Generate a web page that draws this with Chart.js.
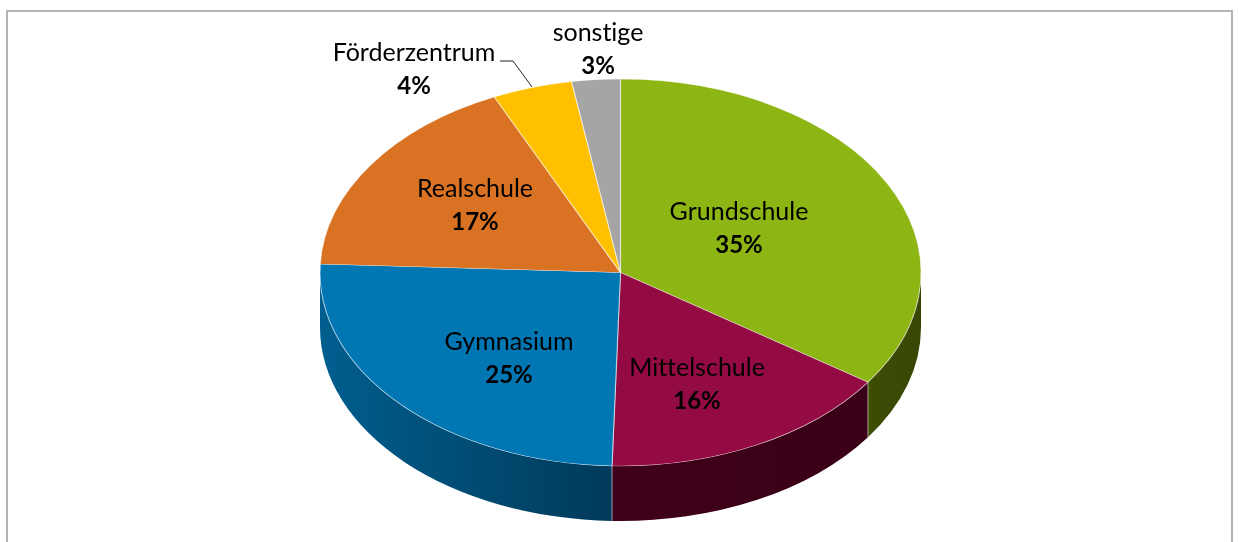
<!DOCTYPE html>
<html lang="de">
<head>
    <meta charset="UTF-8">
    <title>Schularten</title>
    <script src="https://cdn.jsdelivr.net/npm/chart.js"></script>
    <style>
      html, body { margin: 0; padding: 0; background: #fff; overflow: hidden; }
      #box { position: absolute; left: 6px; top: 10px; width: 1223px; height: 560px; border: 2px solid #b3b3b3; }
      #wrap { position: absolute; left: 0; top: 0; width: 1239px; height: 542px; }
    </style>
</head>
<body>
    <div id="box"></div>
    <div id="wrap"><canvas id="pieChart" width="1239" height="542"></canvas></div>

    <script>
      const categories = ['Grundschule', 'Mittelschule', 'Gymnasium', 'Realschule', 'Förderzentrum', 'sonstige'];
      // slice sizes, the printed labels are rounded
      const shares = [34.6, 15.85, 25.25, 17.4, 4.3, 2.6];
      const percentLabels = ['35%', '16%', '25%', '17%', '4%', '3%'];
      const topColors = ['#8db513', '#930b42', '#0076b3', '#d97222', '#ffc000', '#a5a5a5'];
      const wallLeft = ['#3d4d05', '#3f0119', '#005e8e', '#8a4a14', '#a07800', '#666666'];
      const wallRight = ['#384704', '#3a0017', '#003a5a', '#8a4a14', '#a07800', '#666666'];

      // text anchors, pixel centre of each two line label
      const labelX = [739, 697, 509, 475, 414, 598];
      const labelY = [212, 368, 342, 189, 53, 33];

      // where the flat pie ends up on the page
      const cx = 620.5, cy = 272.5, rx = 300.5, ry = 193.5, depth = 55;

      function squash(ctx, el) {
        ctx.translate(cx, cy);
        ctx.scale(rx / el.outerRadius, ry / el.outerRadius);
        ctx.translate(-el.x, -el.y);
      }

      // side walls, only the front half of the ellipse shows
      const wallPlugin = {
        id: 'wall',
        beforeDatasetsDraw(chart) {
          const ctx = chart.ctx;
          chart.getDatasetMeta(0).data.forEach((el, i) => {
            const a = Math.max(el.startAngle, 0);
            const b = Math.min(el.endAngle, Math.PI);
            if (b <= a) return;
            const x0 = cx + rx * Math.cos(b), x1 = cx + rx * Math.cos(a);
            const grad = ctx.createLinearGradient(Math.min(x0, x1), 0, Math.max(x0, x1), 0);
            grad.addColorStop(0, wallLeft[i]);
            grad.addColorStop(1, wallRight[i]);
            ctx.save();
            ctx.beginPath();
            ctx.ellipse(cx, cy, rx, ry, 0, a, b);
            ctx.ellipse(cx, cy + depth, rx, ry, 0, b, a, true);
            ctx.closePath();
            ctx.fillStyle = grad;
            ctx.fill();
            // light seam where two walls meet
            if (a > 0 && a < Math.PI) {
              const x = cx + rx * Math.cos(a), y = cy + ry * Math.sin(a);
              ctx.beginPath();
              ctx.moveTo(x, y);
              ctx.lineTo(x, y + depth);
              ctx.strokeStyle = 'rgba(255,255,255,0.55)';
              ctx.lineWidth = 1;
              ctx.stroke();
            }
            ctx.restore();
          });
          ctx.save();
          squash(ctx, chart.getDatasetMeta(0).data[0]);
        },
        afterDatasetsDraw(chart) {
          const ctx = chart.ctx;
          ctx.restore();

          // leader line of Förderzentrum
          ctx.save();
          ctx.beginPath();
          ctx.moveTo(500, 61);
          ctx.lineTo(513, 61);
          ctx.lineTo(532, 87);
          ctx.strokeStyle = '#222';
          ctx.lineWidth = 1;
          ctx.stroke();

          ctx.fillStyle = '#000';
          ctx.textAlign = 'center';
          ctx.textBaseline = 'middle';
          ctx.textRendering = 'optimizeSpeed'; // no tt/ti ligatures from Lato
          categories.forEach((name, i) => {
            ctx.font = '25px Lato, Carlito, sans-serif';
            ctx.fillText(name, labelX[i], labelY[i]);
            ctx.font = 'bold 24px Lato, Carlito, sans-serif';
            ctx.fillText(percentLabels[i], labelX[i], labelY[i] + 33);
          });
          ctx.restore();
        }
      };

      new Chart(document.getElementById('pieChart'), {
        type: 'pie',
        data: {
          labels: categories,
          datasets: [{
            data: shares,
            backgroundColor: topColors,
            borderColor: 'rgba(255,255,255,0.55)',
            borderWidth: 1,
            clip: false
          }]
        },
        options: {
          responsive: false,
          animation: false,
          plugins: { legend: { display: false }, tooltip: { enabled: false }, title: { display: false } }
        },
        plugins: [wallPlugin]
      });
    </script>
</body>
</html>
